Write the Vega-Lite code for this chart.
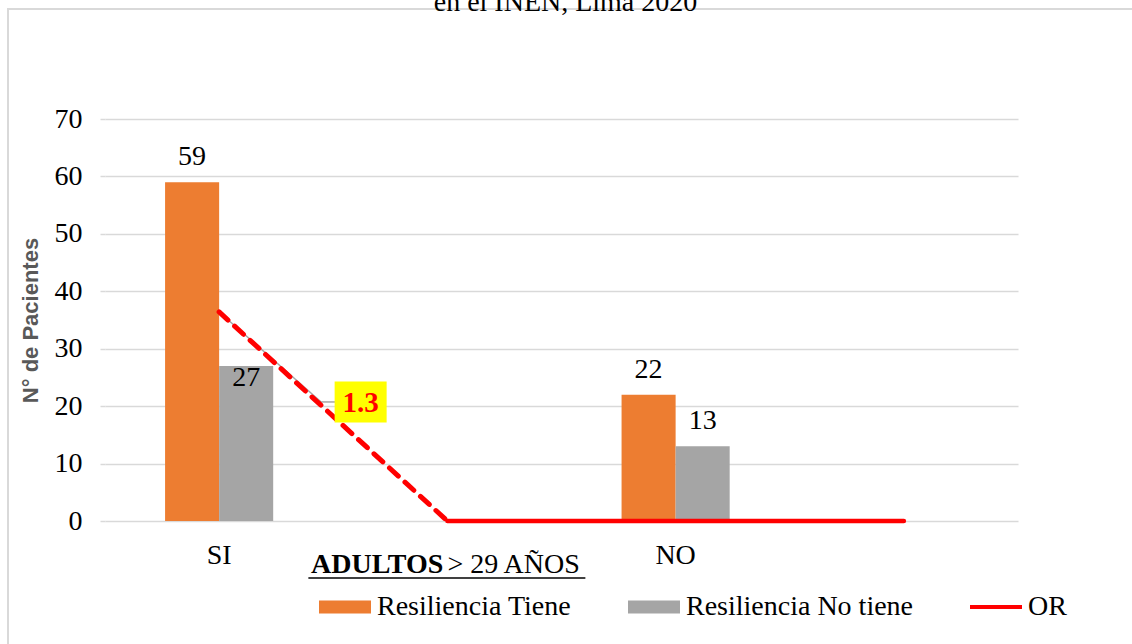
{
  "$schema": "https://vega.github.io/schema/vega-lite/v6.json",
  "width": 913,
  "height": 402,
  "autosize": {"type": "none"},
  "padding": {"left": 105, "top": 119, "right": 114, "bottom": 123},
  "background": "white",
  "title": {"text": "en el INEN, Lima 2020", "font": "Liberation Serif", "fontSize": 28, "fontWeight": "normal", "color": "black", "anchor": "middle", "frame": "group", "baseline": "alphabetic", "offset": -31, "dx": 4},
  "config": {"view": {"stroke": null}, "font": "Liberation Serif"},
  "datasets": {
    "barras": [
      {"categoria": "SI", "serie": "Resiliencia Tiene", "n": 59},
      {"categoria": "SI", "serie": "Resiliencia No tiene", "n": 27},
      {"categoria": "NO", "serie": "Resiliencia Tiene", "n": 22},
      {"categoria": "NO", "serie": "Resiliencia No tiene", "n": 13}
    ],
    "or": [
      {"categoria": "SI", "or": 1.3},
      {"categoria": "_a", "or": 0},
      {"categoria": "NO", "or": 0},
      {"categoria": "_b", "or": 0}
    ]
  },
  "layer": [
    {
      "data": {"values": [{}]},
      "mark": {"type": "rect", "fill": null, "stroke": "#D9D9D9", "strokeWidth": 2, "x": -97, "y": -110, "x2": 1100, "y2": 600},
      "encoding": {}
    },
    {
      "layer": [
        {
          "data": {"name": "barras"},
          "mark": {"type": "bar"},
          "encoding": {
            "x": {"field": "categoria", "type": "nominal", "title": null,
              "scale": {"domain": ["SI", "_a", "NO", "_b"], "paddingInner": 0.5263, "paddingOuter": 0.2632},
              "axis": {"labelExpr": "datum.value == 'SI' || datum.value == 'NO' ? datum.value : ''", "domain": false, "ticks": false, "tickSize": 0, "grid": false, "labelAngle": 0, "labelFont": "Liberation Serif", "labelFontSize": 28, "labelColor": "black", "labelBaseline": "alphabetic", "labelPadding": 42}},
            "xOffset": {"field": "serie", "type": "nominal", "scale": {"domain": ["Resiliencia Tiene", "Resiliencia No tiene"], "paddingInner": 0, "paddingOuter": 0}},
            "y": {"field": "n", "type": "quantitative", "title": "N° de Pacientes",
              "scale": {"domain": [0, 70]},
              "axis": {"values": [0, 10, 20, 30, 40, 50, 60, 70], "grid": true, "gridColor": "#D9D9D9", "gridWidth": 1.5, "domain": false, "ticks": true, "tickColor": "#D9D9D9", "tickSize": 5, "tickWidth": 1.5, "labelFont": "Liberation Serif", "labelFontSize": 28, "labelColor": "black", "labelPadding": 18, "titleFont": "Liberation Sans", "titleFontSize": 22, "titleFontWeight": "bold", "titleColor": "#595959", "titlePadding": 12}},
            "color": {"field": "serie", "type": "nominal",
              "scale": {"domain": ["Resiliencia Tiene", "Resiliencia No tiene", "OR"], "range": ["#ED7D31", "#A5A5A5", "#FF0000"]},
              "legend": {"orient": "none", "legendX": 214, "legendY": 462, "direction": "horizontal", "columns": 3, "title": null,
                "labelFont": "Liberation Serif", "labelFontSize": 28, "labelColor": "black", "labelOffset": 6, "labelLimit": 400, "columnPadding": 56,
                "symbolSize": 2704, "symbolType": "square", "symbolStrokeWidth": 0,
                "encode": {"symbols": {"update": {
                  "shape": {"signal": "datum.value === 'OR' ? 'M-1,-0.08L1,-0.08L1,0.08L-1,0.08Z' : 'M-1,-0.25L1,-0.25L1,0.25L-1,0.25Z'"},
                  "fill": {"signal": "datum.value === 'OR' ? '#FF0000' : datum.value === 'Resiliencia Tiene' ? '#ED7D31' : '#A5A5A5'"},
                  "stroke": {"value": "transparent"},
                  "opacity": {"value": 1}}}}}}
          }
        },
        {
          "data": {"name": "barras"},
          "transform": [{"filter": "datum.n != 27"}],
          "mark": {"type": "text", "font": "Liberation Serif", "fontSize": 28, "color": "black", "baseline": "alphabetic", "dy": -17},
          "encoding": {
            "x": {"field": "categoria", "type": "nominal", "title": null},
            "xOffset": {"field": "serie", "type": "nominal"},
            "y": {"field": "n", "type": "quantitative", "scale": {"domain": [0, 70]}},
            "text": {"field": "n", "type": "quantitative"}
          }
        },
        {
          "data": {"name": "barras"},
          "transform": [{"filter": "datum.n == 27"}],
          "mark": {"type": "text", "font": "Liberation Serif", "fontSize": 28, "color": "black", "baseline": "alphabetic", "dy": 20},
          "encoding": {
            "x": {"field": "categoria", "type": "nominal", "title": null},
            "xOffset": {"field": "serie", "type": "nominal"},
            "y": {"field": "n", "type": "quantitative", "scale": {"domain": [0, 70]}},
            "text": {"field": "n", "type": "quantitative"}
          }
        }
      ]
    },
    {
      "layer": [
        {
          "data": {"name": "or"},
          "transform": [{"filter": "datum.categoria == 'SI'"}],
          "mark": {"type": "rule", "color": "#A6A6A6", "strokeWidth": 1.5, "x2Offset": 102, "y2Offset": 90},
          "encoding": {
            "x": {"field": "categoria", "type": "nominal", "title": null, "bandPosition": 0.5},
            "x2": {"field": "categoria", "bandPosition": 0.5},
            "y": {"field": "or", "type": "quantitative", "scale": {"domain": [0, 2.5]}, "axis": null},
            "y2": {"field": "or"}
          }
        },
        {
          "data": {"name": "or"},
          "transform": [{"filter": "datum.categoria == 'SI'"}],
          "mark": {"type": "rule", "color": "#A6A6A6", "strokeWidth": 1.5, "xOffset": 102, "x2Offset": 116, "yOffset": 90, "y2Offset": 90},
          "encoding": {
            "x": {"field": "categoria", "type": "nominal", "title": null, "bandPosition": 0.5},
            "x2": {"field": "categoria", "bandPosition": 0.5},
            "y": {"field": "or", "type": "quantitative", "scale": {"domain": [0, 2.5]}, "axis": null},
            "y2": {"field": "or"}
          }
        },
        {
          "data": {"name": "or"},
          "transform": [{"filter": "datum.categoria == 'SI' || datum.categoria == '_a'"}],
          "mark": {"type": "line", "strokeWidth": 5, "strokeDash": [12, 9], "strokeCap": "round"},
          "encoding": {
            "x": {"field": "categoria", "type": "nominal", "title": null},
            "y": {"field": "or", "type": "quantitative", "scale": {"domain": [0, 2.5]}, "axis": null},
            "color": {"datum": "OR"}
          }
        },
        {
          "data": {"name": "or"},
          "transform": [{"filter": "datum.categoria != 'SI'"}],
          "mark": {"type": "line", "strokeWidth": 4.5, "strokeCap": "round"},
          "encoding": {
            "x": {"field": "categoria", "type": "nominal", "title": null},
            "y": {"field": "or", "type": "quantitative", "scale": {"domain": [0, 2.5]}, "axis": null},
            "color": {"datum": "OR"}
          }
        },
        {
          "data": {"name": "or"},
          "transform": [{"filter": "datum.categoria == 'SI'"}],
          "mark": {"type": "point", "shape": "M-1,-0.79L1,-0.79L1,0.79L-1,0.79Z", "size": 2704, "filled": true, "fill": "#FFFF00", "opacity": 1, "strokeWidth": 0, "xOffset": 141.5, "yOffset": 90},
          "encoding": {
            "x": {"field": "categoria", "type": "nominal", "title": null},
            "y": {"field": "or", "type": "quantitative", "scale": {"domain": [0, 2.5]}, "axis": null}
          }
        },
        {
          "data": {"name": "or"},
          "transform": [{"filter": "datum.categoria == 'SI'"}],
          "mark": {"type": "text", "font": "Liberation Serif", "fontSize": 29, "fontWeight": "bold", "color": "#FF0000", "baseline": "middle", "dx": 141.5, "dy": 91},
          "encoding": {
            "x": {"field": "categoria", "type": "nominal", "title": null},
            "y": {"field": "or", "type": "quantitative", "scale": {"domain": [0, 2.5]}, "axis": null},
            "text": {"field": "or", "type": "quantitative", "format": ".1f"}
          }
        }
      ]
    },
    {
      "data": {"values": [{}]},
      "mark": {"type": "text", "text": "ADULTOS", "font": "Liberation Serif", "fontSize": 28, "fontWeight": "bold", "color": "black", "align": "right", "baseline": "alphabetic", "dx": -4},
      "encoding": {"x": {"datum": "_a", "type": "nominal"}, "y": {"value": 454}}
    },
    {
      "data": {"values": [{}]},
      "mark": {"type": "text", "text": " > 29 AÑOS", "font": "Liberation Serif", "fontSize": 28, "color": "black", "align": "left", "baseline": "alphabetic"},
      "encoding": {"x": {"datum": "_a", "type": "nominal"}, "y": {"value": 454}}
    },
    {
      "data": {"values": [{}]},
      "mark": {"type": "rule", "color": "black", "strokeWidth": 1.5, "xOffset": -139, "x2Offset": 138},
      "encoding": {"x": {"datum": "_a", "type": "nominal"}, "x2": {"datum": "_a"}, "y": {"value": 459}, "y2": {"value": 459}}
    }
  ],
  "resolve": {"scale": {"y": "independent"}}
}
